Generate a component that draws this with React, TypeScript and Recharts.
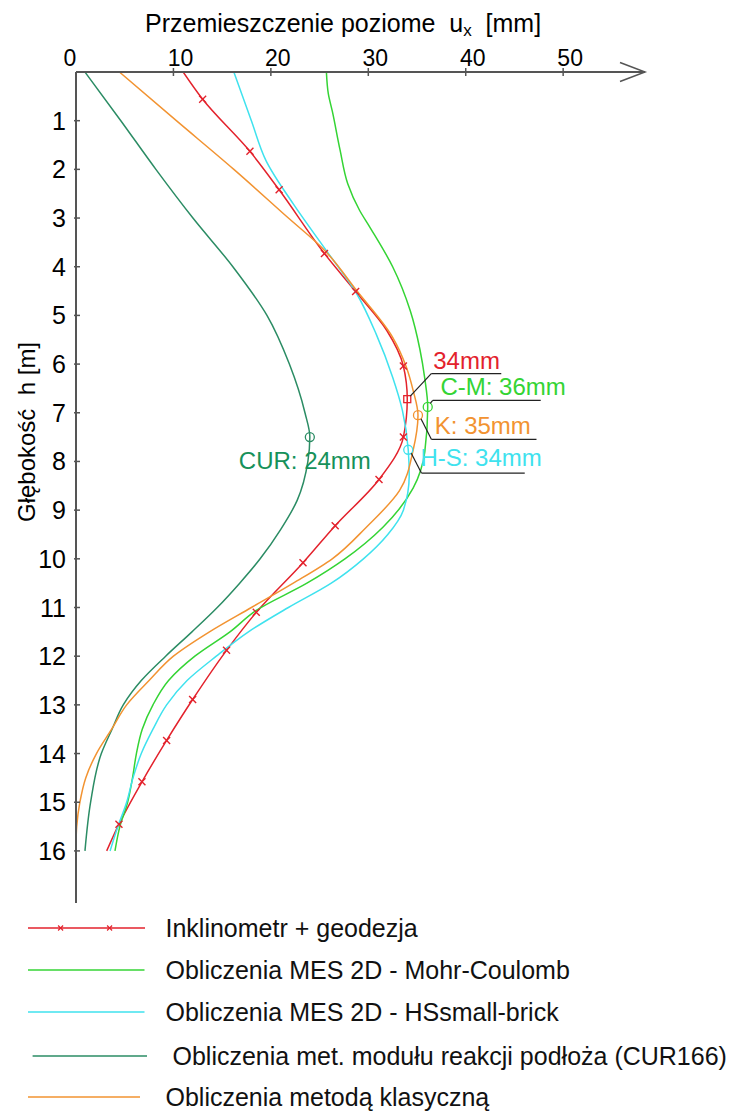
import React from 'react';
import { LineChart, Line, XAxis, YAxis, ReferenceDot } from 'recharts';

// axis ticks
const uTicks = [0, 10, 20, 30, 40, 50];
const depthTicks = [1, 2, 3, 4, 5, 6, 7, 8, 9, 10, 11, 12, 13, 14, 15, 16];

// Inklinometr + geodezja (m = measurement marker)
const inklDepth = [0, 0.56, 1.63, 2.42, 3.73, 4.51, 5.31, 6.04, 6.72, 7.5, 8.37, 9.32, 10.08, 11.1, 11.88, 12.89, 13.73, 14.58, 15.45, 16.0];
const inklU = [11.0, 13.0, 17.85, 20.85, 25.5, 28.7, 31.9, 33.6, 34.0, 33.6, 31.1, 26.6, 23.3, 18.5, 15.45, 11.97, 9.3, 6.77, 4.41, 3.15];
const inklMarker = [0, 1, 1, 1, 1, 1, 0, 1, 0, 1, 1, 1, 1, 1, 1, 1, 1, 1, 1, 0];

// MES 2D - Mohr-Coulomb
const mcDepth = [0, 0.45, 0.8, 1.6, 2.3, 2.84, 3.2, 4.0, 4.9, 5.7, 6.3, 6.88, 7.8, 8.55, 9.35, 10.0, 10.5, 11.06, 11.5, 12.0, 12.5, 13.0, 13.5, 14.0, 14.5, 15.0, 15.5, 16.0];
const mcU = [25.7, 25.9, 26.3, 27.1, 27.9, 29.1, 30.2, 32.5, 34.3, 35.3, 35.8, 36.1, 35.8, 34.6, 31.5, 27.6, 23.7, 18.5, 15.8, 12.2, 9.5, 7.9, 6.8, 6.2, 5.8, 5.3, 4.5, 4.0];

// MES 2D - HSsmall-brick
const hsDepth = [0, 1.0, 1.82, 2.71, 3.67, 4.55, 5.38, 6.27, 6.95, 7.76, 8.3, 9.0, 9.5, 10.0, 10.5, 11.0, 11.5, 12.0, 12.5, 13.0, 13.5, 14.0, 14.5, 15.0, 15.5, 16.0];
const hsU = [16.2, 18.0, 19.5, 22.3, 25.7, 28.8, 30.8, 32.5, 33.5, 34.1, 34.2, 33.6, 32.0, 29.5, 26.2, 21.8, 17.7, 14.4, 11.4, 9.3, 7.9, 6.7, 5.85, 5.2, 4.3, 3.5];

// modul reakcji podloza (CUR166)
const curDepth = [0, 1, 2, 3, 4, 5, 6, 7, 7.5, 8, 8.8, 9.4, 10, 10.5, 11, 11.5, 12, 12.5, 13, 13.5, 14, 15, 16];
const curU = [0.92, 4.6, 8.2, 12.0, 16.1, 19.6, 21.9, 23.5, 24.0, 23.8, 22.7, 21.0, 18.9, 16.8, 14.5, 11.9, 9.2, 6.7, 4.85, 3.7, 2.6, 1.5, 0.92];

// metoda klasyczna
const klDepth = [0, 1, 2, 3, 3.66, 4.49, 5.45, 6.06, 6.54, 7.05, 7.77, 8.6, 9.35, 10.0, 10.5, 11.0, 11.5, 12.0, 12.5, 13.0, 13.5, 14.0, 14.5, 15.0, 15.5, 15.85];
const klU = [4.45, 10.3, 16.2, 21.8, 25.5, 28.8, 32.5, 33.9, 34.6, 35.1, 34.6, 33.2, 29.8, 26.3, 22.3, 18.0, 13.7, 10.0, 7.5, 5.2, 3.66, 2.1, 1.0, 0.4, 0.07, 0];

// maxima
const peakLabels = ['34mm', 'C-M: 36mm', 'K: 35mm', 'H-S: 34mm', 'CUR: 24mm'];
const peakU = [34.0, 36.1, 35.1, 34.1, 24.0];
const peakDepth = [6.72, 6.88, 7.05, 7.76, 7.5];

const build = (depth: number[], u: number[], m?: number[]) =>
  depth.map((d, i) => ({ d, u: u[i], m: m ? m[i] : 0 }));

const RED = '#e3222c';
const GREEN = '#34d434';
const CYAN = '#3fe2ee';
const TEAL = '#2b8c64';
const ORANGE = '#f29331';
const AXIS = '#555';
const FONT = '"Liberation Sans", Arial, sans-serif';

const series = [
  { name: 'Inklinometr + geodezja', color: RED, data: build(inklDepth, inklU, inklMarker) },
  { name: 'Obliczenia MES 2D - Mohr-Coulomb', color: GREEN, data: build(mcDepth, mcU) },
  { name: 'Obliczenia MES 2D - HSsmall-brick', color: CYAN, data: build(hsDepth, hsU) },
  { name: 'Obliczenia met. modułu reakcji podłoża (CUR166)', color: TEAL, data: build(curDepth, curU) },
  { name: 'Obliczenia metodą klasyczną', color: ORANGE, data: build(klDepth, klU) },
];

const XTick = (props: any) => {
  const { x, payload } = props;
  const v = payload.value;
  return (
    <g>
      {v !== 0 && <line x1={x} x2={x} y1={68} y2={76} stroke={AXIS} strokeWidth={1.5} />}
      <text x={x + (v === 0 ? -6 : 7)} y={66} textAnchor="middle" fontSize={23} fontFamily={FONT} fill="#000">
        {v}
      </text>
    </g>
  );
};

const YTick = (props: any) => {
  const { y, payload } = props;
  return (
    <g>
      <line x1={74} x2={80} y1={y} y2={y} stroke={AXIS} strokeWidth={1.5} />
      <text x={66} y={y} dy="0.36em" textAnchor="end" fontSize={25} fontFamily={FONT} fill="#000">
        {payload.value}
      </text>
    </g>
  );
};

const CrossDot = (props: any) => {
  const { cx, cy, payload, index } = props;
  if (!payload || !payload.m) return <g key={`cd${index}`} />;
  const s = 3.5;
  return (
    <g key={`cd${index}`} stroke={RED} strokeWidth={1.4}>
      <line x1={cx - s} y1={cy - s} x2={cx + s} y2={cy + s} />
      <line x1={cx - s} y1={cy + s} x2={cx + s} y2={cy - s} />
    </g>
  );
};

const Arrow = (props: any) => {
  const { cx, cy } = props;
  return (
    <g stroke={AXIS} strokeWidth={1.5} fill="none">
      <polyline points={`${cx - 25},${cy - 9.5} ${cx},${cy} ${cx - 25},${cy + 9.5}`} />
    </g>
  );
};

const annText = { fontSize: 24, fontFamily: FONT };

const peakShape = (i: number) => (props: any) => {
  const { cx, cy } = props;
  const label = peakLabels[i];
  if (i === 0) {
    return (
      <g>
        <rect x={cx - 3.5} y={cy - 3.5} width={7} height={7} fill="none" stroke={RED} strokeWidth={1.3} />
        <line x1={cx + 3} y1={cy - 3} x2={cx + 24} y2={cy - 25.5} stroke="#222" strokeWidth={1.2} />
        <line x1={cx + 24} y1={cy - 25.5} x2={cx + 94} y2={cy - 25.5} stroke="#222" strokeWidth={1.2} />
        <text x={cx + 26} y={cy - 30.5} fill={RED} {...annText}>{label}</text>
      </g>
    );
  }
  if (i === 1) {
    return (
      <g>
        <circle cx={cx} cy={cy} r={4.5} fill="none" stroke={GREEN} strokeWidth={1.3} />
        <line x1={cx + 2.5} y1={cy - 3.5} x2={cx + 5} y2={cy - 6.5} stroke="#222" strokeWidth={1.2} />
        <line x1={cx + 5} y1={cy - 6.5} x2={cx + 113} y2={cy - 6.5} stroke="#222" strokeWidth={1.2} />
        <text x={cx + 12.7} y={cy - 12} fill={GREEN} {...annText}>{label}</text>
      </g>
    );
  }
  if (i === 2) {
    return (
      <g>
        <circle cx={cx} cy={cy} r={4.5} fill="none" stroke={ORANGE} strokeWidth={1.3} />
        <line x1={cx + 3} y1={cy + 3.5} x2={cx + 13.5} y2={cy + 24.2} stroke="#222" strokeWidth={1.2} />
        <line x1={cx + 13.5} y1={cy + 24.2} x2={cx + 118.5} y2={cy + 24.2} stroke="#222" strokeWidth={1.2} />
        <text x={cx + 16.8} y={cy + 18.5} fill={ORANGE} {...annText}>{label}</text>
      </g>
    );
  }
  if (i === 3) {
    return (
      <g>
        <circle cx={cx} cy={cy} r={4.5} fill="none" stroke={CYAN} strokeWidth={1.3} />
        <line x1={cx + 3} y1={cy + 3.5} x2={cx + 13.2} y2={cy + 23.3} stroke="#222" strokeWidth={1.2} />
        <line x1={cx + 13.2} y1={cy + 23.3} x2={cx + 116.5} y2={cy + 23.3} stroke="#222" strokeWidth={1.2} />
        <text x={cx + 12.2} y={cy + 16.6} fill={CYAN} {...annText}>{label}</text>
      </g>
    );
  }
  return (
    <g>
      <circle cx={cx} cy={cy} r={4.5} fill="none" stroke={TEAL} strokeWidth={1.3} />
      <text x={cx - 5} y={cy + 31.5} textAnchor="middle" fill="#16915a" {...annText}>{label}</text>
    </g>
  );
};

const legendRows = [928, 970, 1012, 1056, 1097];
const legendLine = [[28, 145], [28, 144.5], [28, 144.5], [32.6, 147], [28, 140]];
const legendTextX = [165.5, 165.5, 165.5, 172.5, 165.5];

function ChartLegend() {
  const top = 915;
  return (
    <svg width={730} height={200} style={{ position: 'absolute', left: 0, top }}>
      {series.map((s, i) => {
        const y = legendRows[i] - top;
        const [x1, x2] = legendLine[i];
        return (
          <g key={s.name}>
            <line x1={x1} x2={x2} y1={y} y2={y} stroke={s.color} strokeWidth={1.5} />
            {i === 0 &&
              [60.6, 109.6].map((mx) => (
                <g key={mx} stroke={RED} strokeWidth={1.2}>
                  <line x1={mx - 2.5} y1={y - 2.5} x2={mx + 2.5} y2={y + 2.5} />
                  <line x1={mx - 2.5} y1={y + 2.5} x2={mx + 2.5} y2={y - 2.5} />
                </g>
              ))}
            <text x={legendTextX[i]} y={y + 9} fontSize={25} fontFamily={FONT} fill="#111">
              {s.name}
            </text>
          </g>
        );
      })}
    </svg>
  );
}

export default function App() {
  return (
    <div style={{ position: 'absolute', left: 0, top: 0, width: 730, height: 1115, background: '#fff', fontFamily: FONT }}>
      <LineChart
        layout="vertical"
        width={730}
        height={915}
        margin={{ top: 0, right: 85, bottom: 12, left: 0 }}
      >
        <XAxis
          type="number"
          dataKey="u"
          orientation="top"
          height={72}
          domain={[0, 58.4]}
          ticks={uTicks}
          allowDataOverflow
          axisLine={{ stroke: AXIS, strokeWidth: 2 }}
          tickLine={false}
          tick={<XTick />}
          label={{
            content: () => (
              <text x={145} y={32} fontSize={25} fontFamily={FONT} fill="#000" style={{ whiteSpace: 'pre' }}>
                {'Przemieszczenie poziome  u'}
                <tspan fontSize={17} dy={4}>x</tspan>
                <tspan dy={-4}>{'  [mm]'}</tspan>
              </text>
            ),
          }}
        />
        <YAxis
          type="number"
          dataKey="d"
          width={76}
          domain={[0, 17.07]}
          ticks={depthTicks}
          allowDataOverflow
          axisLine={{ stroke: AXIS, strokeWidth: 2 }}
          tickLine={false}
          tick={<YTick />}
          label={{
            content: () => (
              <text
                x={35}
                y={432}
                transform="rotate(-90 35 432)"
                textAnchor="middle"
                fontSize={24}
                fontFamily={FONT}
                fill="#000"
                style={{ whiteSpace: 'pre' }}
              >
                {'Głębokość  h [m]'}
              </text>
            ),
          }}
        />
        {series.map((s, i) => (
          <Line
            key={s.name}
            data={s.data}
            dataKey="u"
            name={s.name}
            type="monotone"
            stroke={s.color}
            strokeWidth={1.5}
            dot={i === 0 ? CrossDot : false}
            activeDot={false}
            isAnimationActive={false}
          />
        ))}
        <ReferenceDot x={58.4} y={0} shape={Arrow} ifOverflow="visible" />
        {peakLabels.map((_, i) => (
          <ReferenceDot key={`pk${i}`} x={peakU[i]} y={peakDepth[i]} shape={peakShape(i)} ifOverflow="visible" />
        ))}
      </LineChart>
      <ChartLegend />
    </div>
  );
}
